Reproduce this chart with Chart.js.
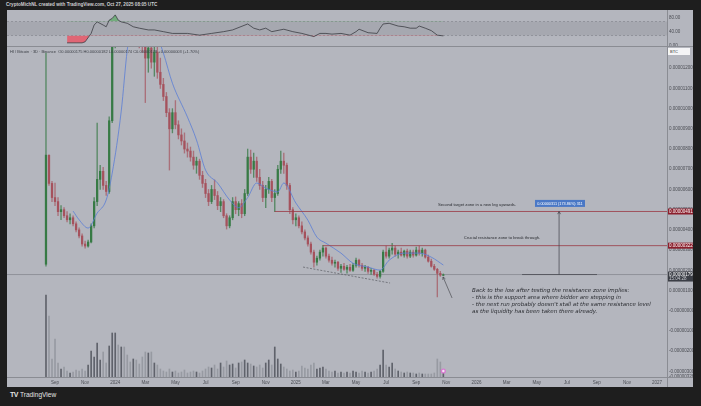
<!DOCTYPE html>
<html lang="en">
<head>
<meta charset="UTF-8">
<title>HI / Bitcoin 3D</title>
<script src="https://cdn.jsdelivr.net/npm/chart.js@4"></script>
<style>
  body { margin: 0; width: 701px; height: 406px; background: #1e1e1e; overflow: hidden;
         font-family: 'Liberation Sans', Arial, sans-serif; position: relative; }
  #header { position: absolute; left: 6px; top: 2px; font-size: 4.6px; font-weight: bold; color: #cfcfd2; }
  #frame { position: absolute; left: 7px; top: 10px; width: 686px; height: 377px; background: #b4b6be; }
  #rsiBox { position: absolute; left: 0; top: 0; width: 686px; height: 36px; }
  #priceBox { position: absolute; left: 0; top: 37px; width: 686px; height: 340px; }
  .sep { position: absolute; background: #8a8c93; }
  #legend { position: absolute; left: 3px; top: 39px; font-size: 4px; color: #3d4047; white-space: nowrap; }
  #btc { position: absolute; left: 661px; top: 38px; width: 22px; height: 7px; background: #f4f4f6;
         font-size: 4px; line-height: 7px; color: #333; padding-left: 2px; box-sizing: border-box; }
  #logo { position: absolute; left: 10px; top: 391px; font-size: 6.6px; color: #e4e4e4; }
  #logo b { font-size: 7px; letter-spacing: -0.5px; margin-right: 2px; }
</style>
</head>
<body>
<div id="header">CryptoMichNL created with TradingView.com, Oct 27, 2025 08:05 UTC</div>
<div id="frame">
  <div id="rsiBox"><canvas id="rsiChart"></canvas></div>
  <div id="priceBox"><canvas id="priceChart"></canvas></div>
  <div class="sep" style="left:0;top:36px;width:686px;height:1px"></div>
  <div class="sep" style="left:0;top:367px;width:686px;height:1px"></div>
  <div class="sep" style="left:660px;top:0;width:1px;height:377px"></div>
  <div id="legend">HI / Bitcoin · 3D · Binance &nbsp;O0.00000175 H0.00000182 L0.00000174 C0.00000178 +0.00000003 (+1.70%)</div>
  <div id="btc">BTC</div>
</div>
<div id="logo"><b>TV</b>TradingView</div>

<script>
// prices in satoshi (1e-8 BTC), time in months since Jan 2023
const firstMonth = 7.4;   // first candle, mid Aug 2023
const candleStep = 0.2;   // one candle ~ 6 days
const lastPrice = 179;

const opens = [230,770,630,560,540,490,500,470,450,460, 430,400,370,330,320,340,420,540,650,690,
  620,590,940,1350,1600,1500,1800,1700,1600,1500, 1700,1450,1400,1350,1250,1300,1230,1280,1180,1120,
  1060,980,900,980,920,870,840,800,790,760, 720,740,670,630,580,540,600,570,520,540,
  470,420,460,540,500,530,480,580,760,700, 740,660,620,560,600,640,560,580,700,740,
  720,620,500,450,460,420,390,360,330,290, 240,260,290,310,270,250,235,240,210,220,
  205,215,200,225,250,225,210,215,195,200, 180,170,195,290,270,300,310,280,290,275,
  295,270,290,275,300,285,300,265,245,220, 205,185,175];
const highs = [1275,770,640,631,560,520,510,490,480,470, 440,410,380,345,350,430,560,929,720,710,
  640,960,1400,1700,1800,1900,2000,1900,1750,1800, 1800,1600,1500,1400,1350,1400,1320,1310,1250,1150,
  1080,1000,1000,1040,940,900,880,830,810,790, 760,750,690,650,600,620,647,590,560,550,
  480,470,560,563,540,550,600,800,795,780, 760,700,640,620,660,650,600,720,790,780,
  730,630,510,480,470,440,400,370,340,300, 270,300,324,315,280,265,250,245,230,235,
  225,230,235,260,255,235,225,220,210,205, 190,200,300,320,310,334,320,300,310,300,
  305,300,300,315,320,310,305,275,255,230, 210,195,182];
const lows = [220,620,540,520,470,450,460,440,430,420, 390,360,320,310,315,335,410,520,600,600,
  570,580,930,1300,1450,1450,1600,1500,1400,1450, 1400,1300,1280,1030,1180,1200,1160,1150,1100,1040,
  960,696,880,900,850,820,780,760,740,700, 680,650,610,560,520,530,550,500,490,460,
  404,410,450,480,470,460,470,570,680,660, 640,600,540,510,580,540,490,570,680,680,
  600,480,430,420,410,380,350,320,280,216, 225,250,270,260,240,225,215,200,190,200,
  186,195,195,215,215,200,195,185,180,175, 161,161,190,260,260,280,270,260,270,265,
  260,262,265,270,275,270,260,240,215,200, 68,170,174];
const closes = [770,630,560,540,490,500,470,450,460,430, 400,370,330,320,340,420,540,650,690,620,
  590,940,1350,1600,1500,1800,1700,1600,1500,1700, 1450,1400,1350,1250,1300,1230,1280,1180,1120,1060,
  980,900,980,920,870,840,800,790,760,720, 740,670,630,580,540,600,570,520,540,470,
  420,460,540,500,530,480,580,760,700,740, 660,620,560,600,640,560,580,700,740,720,
  620,500,450,460,420,390,360,330,290,240, 260,290,310,270,250,235,240,210,220,205,
  215,200,225,250,225,210,215,195,200,180, 170,195,290,270,300,310,280,290,275,295,
  270,290,275,300,285,300,265,245,220,205, 185,176,178];
const volumes = [82,61,18,38,14,8,10,6,4,5, 7,6,8,6,12,26,20,34,17,25,
  14,31,44,44,32,30,30,22,15,18, 17,13,20,25,24,25,14,12,8,6,
  5,8,5,6,4,5,7,4,5,6, 5,4,6,8,10,9,12,8,14,10,
  16,12,13,9,14,15,17,14,13,11, 10,12,9,14,17,12,30,18,13,10,
  8,6,7,5,6,11,9,8,12,14, 8,9,10,8,6,5,6,4,5,4,
  5,4,6,5,4,6,5,4,5,6, 8,12,27,12,10,14,8,6,5,4,
  5,4,4,3,4,3,3,3,3,4, 18,15,6];

// blue moving average, read at candle indexes
const maIdx = [9,11,14,17,20,22,25,27,30,33,36,39,42,47,50,53,57,61,64,67,70,73,77,79,83,87,90,93,98,102,107,111,114,119,124,128,132];
const maVals = [493,450,409,483,548,681,988,1290,1550,1520,1400,1275,1126,958,845,696,632,548,510,560,632,607,588,632,533,448,364,334,285,235,216,201,250,285,285,265,226];

// RSI pane, read at candle indexes
const rsiIdx = [7,10,12,13,15,16,17,19,20,21,22,23,24,25,27,29,31,34,36,39,42,47,51,55,59,62,67,69,71,73,75,79,82,85,89,91,93,95,98,101,103,104,107,110,111,112,114,117,119,121,123,124,126,128,130,132];
const rsiVals = [9,9,9,12,36,60,69,60,55,74,79,89,74,69,65,55,51,46,46,41,36,36,31,36,41,46,63,51,46,51,41,48,41,36,27,36,36,34,36,31,41,48,38,36,51,63,65,57,55,51,51,57,51,44,31,29];

const timeTicks = [8,10,12,14,16,18,20,22,24,26,28,30,32,34,36,38,40,42,44,46,48];
const timeLabels = ['Sep','Nov','2024','Mar','May','Jul','Sep','Nov','2025','Mar','May','Jul','Sep','Nov','2026','Mar','May','Jul','Sep','Nov','2027'];

const levels = [
  { value: 491, from: 76, text: '0.00000491' },
  { value: 322, from: 92, text: '0.00000322' }
];

const X_MIN = 4.81, X_MAX = 48.66;
const UP = '#377a45', DOWN = '#a5525d';
const AXIS_FONT = { family: 'Liberation Sans', size: 4.5 };

const monthOf = i => firstMonth + i * candleStep;
const isUp = closes.map((c, i) => c >= opens[i]);

function xAxis(show) {
  return {
    type: 'linear', min: X_MIN, max: X_MAX, display: show, offset: false,
    grid: { display: false, offset: false, drawTicks: false }, border: { display: false },
    afterBuildTicks: s => { s.ticks = timeTicks.map(v => ({ value: v })); },
    afterFit: s => { s.height = show ? 10 : 0; s.paddingLeft = 0; s.paddingRight = 0; },
    ticks: {
      color: '#4b4d54', font: AXIS_FONT, padding: 3, maxRotation: 0, autoSkip: false,
      callback: v => timeLabels[timeTicks.indexOf(v)]
    }
  };
}

// right price axis, flush with the pane top and bottom
function rightAxis(extra) {
  return Object.assign({
    position: 'right',
    grid: { display: false, drawTicks: false }, border: { display: false },
    afterFit: s => { s.width = 26; s.paddingTop = 0; s.paddingBottom = 0; }
  }, extra);
}

function seg(ctx, x1, y1, x2, y2) {
  ctx.beginPath(); ctx.moveTo(x1, y1); ctx.lineTo(x2, y2); ctx.stroke();
}
function arrowHead(ctx, fx, fy, tx, ty, len) {
  const a = Math.atan2(ty - fy, tx - fx);
  seg(ctx, tx, ty, tx - len * Math.cos(a - 0.5), ty - len * Math.sin(a - 0.5));
  seg(ctx, tx, ty, tx - len * Math.cos(a + 0.5), ty - len * Math.sin(a + 0.5));
}

// ---------- RSI pane ----------
const rsiBand = {
  id: 'rsiBand',
  beforeDatasetsDraw(chart) {
    const { ctx, chartArea: a, scales: { y } } = chart;
    const y70 = y.getPixelForValue(70), y30 = y.getPixelForValue(30);
    ctx.save();
    ctx.fillStyle = '#a6a8b0';
    ctx.fillRect(a.left, y70, a.right - a.left, y30 - y70);
    ctx.strokeStyle = '#7f8189'; ctx.lineWidth = 0.6; ctx.setLineDash([2, 2]);
    seg(ctx, a.left, y70, a.right, y70);
    seg(ctx, a.left, y30, a.right, y30);
    ctx.restore();
  }
};

const rsiPoints = rsiIdx.map((i, k) => ({ x: monthOf(i), y: rsiVals[k] }));

new Chart(document.getElementById('rsiChart'), {
  type: 'line',
  data: {
    datasets: [
      { data: rsiPoints, borderColor: '#2c2e34', borderWidth: 0.7, pointRadius: 0,
        fill: { target: { value: 30 }, above: 'rgba(0,0,0,0)', below: 'rgba(232,88,104,0.85)' } },
      { data: rsiPoints, borderWidth: 0, pointRadius: 0,
        fill: { target: { value: 70 }, above: 'rgba(86,168,96,0.7)', below: 'rgba(0,0,0,0)' } }
    ]
  },
  options: {
    responsive: true, maintainAspectRatio: false, animation: false, events: [],
    layout: { padding: 0 },
    plugins: { legend: { display: false }, tooltip: { enabled: false } },
    scales: {
      x: xAxis(false),
      y: rightAxis({
        min: 0, max: 103,
        afterBuildTicks: s => { s.ticks = [0, 40, 80].map(v => ({ value: v })); },
        ticks: { color: '#4b4d54', font: AXIS_FONT, padding: 2, callback: v => v.toFixed(2) }
      })
    }
  },
  plugins: [rsiBand]
});

// ---------- price pane ----------
const notes = {
  id: 'notes',
  beforeDatasetsDraw(chart) {
    const { ctx, chartArea: a, scales: { y } } = chart;
    const py = y.getPixelForValue(lastPrice);
    ctx.save();
    ctx.strokeStyle = '#80828a'; ctx.lineWidth = 0.7;
    seg(ctx, a.left, py, a.right, py);
    ctx.restore();
  },
  afterDatasetsDraw(chart) {
    const { ctx, chartArea: a, scales: { x, y } } = chart;
    ctx.save();
    // resistance / target lines
    ctx.strokeStyle = '#9b3a45'; ctx.lineWidth = 0.8;
    levels.forEach(l => {
      const ly = y.getPixelForValue(l.value);
      seg(ctx, x.getPixelForValue(monthOf(l.from)), ly, a.right, ly);
    });
    // dashed support line under the lows
    ctx.strokeStyle = '#4a4c52'; ctx.lineWidth = 0.6; ctx.setLineDash([2, 1.5]);
    seg(ctx, x.getPixelForValue(24.48), y.getPixelForValue(216), x.getPixelForValue(30.26), y.getPixelForValue(137));
    ctx.setLineDash([]);
    // arrow to the last candles
    const ax1 = x.getPixelForValue(34.38), ay1 = y.getPixelForValue(63);
    const ax2 = x.getPixelForValue(33.78), ay2 = y.getPixelForValue(167);
    ctx.strokeStyle = '#3a3c42'; ctx.lineWidth = 0.6;
    seg(ctx, ax1, ay1, ax2, ay2);
    arrowHead(ctx, ax1, ay1, ax2, ay2, 3);
    // price range tool
    const mx = x.getPixelForValue(41.49);
    const yb = y.getPixelForValue(lastPrice), yt = y.getPixelForValue(491);
    ctx.strokeStyle = '#3f4147'; ctx.lineWidth = 0.7;
    seg(ctx, mx, yb, mx, yt);
    arrowHead(ctx, mx, yb, mx, yt, 3);
    seg(ctx, x.getPixelForValue(39.03), yb, x.getPixelForValue(44.01), yb);
    const lx = x.getPixelForValue(41.55), ly = y.getPixelForValue(531);
    ctx.fillStyle = '#4a78c6';
    ctx.fillRect(lx - 25, ly - 3.5, 50, 7);
    ctx.fillStyle = '#ffffff'; ctx.font = '3.8px "Liberation Sans"';
    ctx.textAlign = 'center'; ctx.textBaseline = 'middle';
    ctx.fillText('0.00000311 (173.86%) 311', lx, ly + 0.3);
    // notes
    ctx.fillStyle = '#2a2c31'; ctx.font = '4.2px "Liberation Sans"';
    ctx.fillText('Second target zone in a new leg upwards.', x.getPixelForValue(36.04), y.getPixelForValue(525));
    ctx.fillText('Crucial resistance zone to break through.', x.getPixelForValue(37.7), y.getPixelForValue(360));
    ctx.textAlign = 'left'; ctx.font = 'italic 5.5px "DejaVu Sans"';
    const tx = x.getPixelForValue(35.71), ty = y.getPixelForValue(99);
    ['Back to the low after testing the resistance zone implies:',
     '- this is the support area where bidder are stepping in',
     "- the next run probably doesn't stall at the same resistance level",
     'as the liquidity has been taken there already.'
    ].forEach((t, k) => ctx.fillText(t, tx, ty + k * 6.9));
    // event marker
    const ex = x.getPixelForValue(monthOf(opens.length - 1)), ey = a.bottom - 6;
    ctx.fillStyle = '#d77ad0'; ctx.beginPath(); ctx.arc(ex, ey, 2.6, 0, Math.PI * 2); ctx.fill();
    ctx.fillStyle = '#f4e6f4'; ctx.beginPath(); ctx.arc(ex, ey, 1.2, 0, Math.PI * 2); ctx.fill();
    ctx.restore();
  },
  afterDraw(chart) {
    const { ctx, chartArea: a, scales: { y } } = chart;
    ctx.save();
    ctx.font = '4.5px "Liberation Sans"'; ctx.textAlign = 'left'; ctx.textBaseline = 'middle';
    levels.forEach(l => {
      const ly = y.getPixelForValue(l.value);
      ctx.fillStyle = '#8b1e2c'; ctx.fillRect(a.right + 1, ly - 3, 25, 6);
      ctx.fillStyle = '#ffffff'; ctx.fillText(l.text, a.right + 2, ly + 0.3);
    });
    const py = y.getPixelForValue(lastPrice);
    ctx.fillStyle = '#3b3e46'; ctx.fillRect(a.right + 1, py - 3, 25, 10);
    ctx.fillStyle = '#ffffff';
    ctx.fillText('0.00000179', a.right + 2, py + 0.2);
    ctx.fillStyle = '#c9cbd1';
    ctx.fillText('15:04:28', a.right + 2, py + 4.6);
    ctx.restore();
  }
};

new Chart(document.getElementById('priceChart'), {
  type: 'bar',
  data: {
    datasets: [
      { type: 'bar', yAxisID: 'yv', order: 3, grouped: false, barThickness: 1,
        data: volumes.map((v, i) => ({ x: monthOf(i), y: v })),
        backgroundColor: isUp.map(u => u ? '#5f626b' : '#979aa2') },
      { type: 'bar', yAxisID: 'y', order: 2, grouped: false, barThickness: 0.7,
        data: lows.map((l, i) => ({ x: monthOf(i), y: [l, highs[i]] })),
        backgroundColor: isUp.map(u => u ? 'rgba(55,122,69,0.75)' : 'rgba(165,82,93,0.7)') },
      { type: 'bar', yAxisID: 'y', order: 1, grouped: false, barThickness: 1.6, minBarLength: 0.6,
        data: opens.map((o, i) => ({ x: monthOf(i), y: [o, closes[i]] })),
        backgroundColor: isUp.map(u => u ? UP : DOWN) },
      { type: 'line', yAxisID: 'y', order: 0, borderColor: '#5a7ed6', borderWidth: 0.8,
        pointRadius: 0, tension: 0.35, cubicInterpolationMode: 'monotone',
        data: maIdx.map((i, k) => ({ x: monthOf(i), y: maVals[k] })) }
    ]
  },
  options: {
    responsive: true, maintainAspectRatio: false, animation: false, events: [],
    layout: { padding: 0 },
    plugins: { legend: { display: false }, tooltip: { enabled: false } },
    scales: {
      x: xAxis(true),
      y: rightAxis({
        min: -328, max: 1305,
        ticks: {
          stepSize: 100, color: '#4b4d54', font: AXIS_FONT, padding: 2,
          callback: v => v > 1250 ? '' : (v <= 0 ? '-' : '') + (Math.abs(v) / 1e8).toFixed(8)
        }
      }),
      yv: { display: false, min: 0, max: 330 }
    }
  },
  plugins: [notes]
});
</script>
</body>
</html>
